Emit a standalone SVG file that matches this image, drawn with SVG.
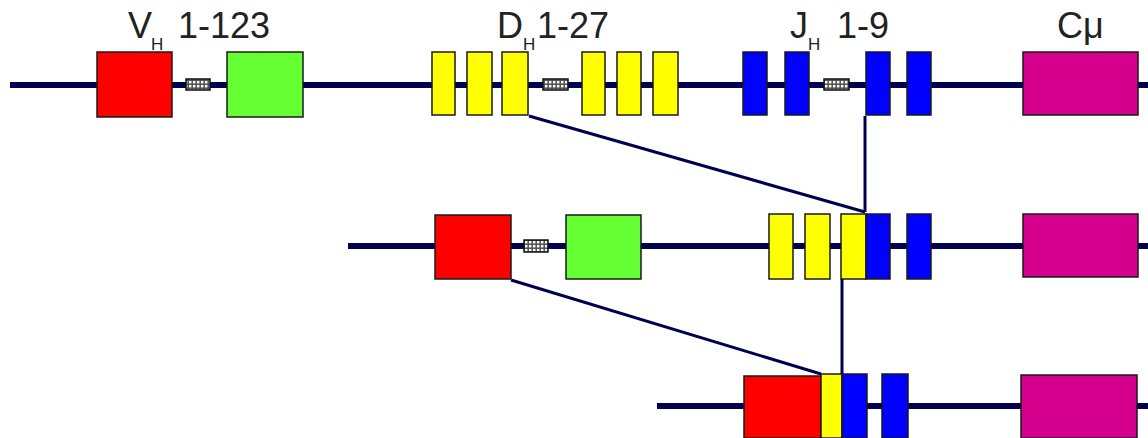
<svg xmlns="http://www.w3.org/2000/svg" width="1148" height="438" viewBox="0 0 1148 438">
<defs>
<pattern id="grid" width="4" height="4" patternUnits="userSpaceOnUse">
<rect width="4" height="4" fill="#555"/>
<rect x="1" y="1" width="2.4" height="2.4" fill="#fff"/>
</pattern>
</defs>
<style>
.dna{stroke:#000050;stroke-width:6;fill:none}
.con{stroke:#000050;stroke-width:3;fill:none}
.box{stroke:#1a1a1a;stroke-width:1.5}
.v{fill:#ff0000}.l{fill:#66ff33}.d{fill:#ffff00}.j{fill:#0000ff}.c{fill:#d6008f}
.h{fill:url(#grid);stroke:#111;stroke-width:1.5}
.t{font-family:"Liberation Sans",Arial,sans-serif;font-size:36px;fill:#222}
.s{font-size:17px}
</style>
<rect width="1148" height="438" fill="#fff"/>
<g id="dna-lines">
<line class="dna" x1="10" y1="85" x2="1148" y2="85"/>
<line class="dna" x1="348" y1="246" x2="1148" y2="246"/>
<line class="dna" x1="657" y1="406" x2="1148" y2="406"/>
</g>
<g id="connectors">
<line class="con" x1="529" y1="116" x2="865" y2="212"/>
<line class="con" x1="865" y1="116" x2="865" y2="212"/>
<line class="con" x1="511" y1="280" x2="821" y2="374"/>
<line class="con" x1="842" y1="279" x2="842" y2="374"/>
</g>
<g id="labels">
<text class="t" x="128" y="38">V<tspan class="s" x="151" y="50">H</tspan><tspan x="178" y="38">1-123</tspan></text>
<text class="t" x="497" y="38">D<tspan class="s" x="523" y="50">H</tspan><tspan x="537" y="38">1-27</tspan></text>
<text class="t" x="790" y="38">J<tspan class="s" x="808" y="50">H</tspan><tspan x="837" y="38">1-9</tspan></text>
<text class="t" x="1057" y="38">Cμ</text>
</g>
<g id="row1">
<rect id="r1-v" class="box v" x="97" y="52" width="75" height="65"/>
<rect id="r1-h1" class="h" x="186" y="79" width="24" height="11"/>
<rect id="r1-l" class="box l" x="227" y="52" width="76" height="65"/>
<rect id="r1-d1" class="box d" x="432" y="52" width="23" height="63"/>
<rect id="r1-d2" class="box d" x="467" y="52" width="25" height="63"/>
<rect id="r1-d3" class="box d" x="502" y="52" width="26" height="63"/>
<rect id="r1-h2" class="h" x="543" y="79" width="25" height="11"/>
<rect id="r1-d4" class="box d" x="582" y="52" width="23" height="63"/>
<rect id="r1-d5" class="box d" x="617" y="52" width="24" height="63"/>
<rect id="r1-d6" class="box d" x="653" y="52" width="25" height="63"/>
<rect id="r1-j1" class="box j" x="743" y="52" width="24" height="63"/>
<rect id="r1-j2" class="box j" x="785" y="52" width="24" height="63"/>
<rect id="r1-h3" class="h" x="824" y="79" width="25" height="11"/>
<rect id="r1-j3" class="box j" x="866" y="52" width="24" height="63"/>
<rect id="r1-j4" class="box j" x="907" y="52" width="24" height="63"/>
<rect id="r1-c" class="box c" x="1023" y="52" width="115" height="63"/>
</g>
<g id="row2">
<rect id="r2-v" class="box v" x="435" y="215" width="76" height="64"/>
<rect id="r2-h" class="h" x="524" y="240" width="24" height="12"/>
<rect id="r2-l" class="box l" x="566" y="215" width="75" height="64"/>
<rect id="r2-d1" class="box d" x="769" y="214" width="24" height="65"/>
<rect id="r2-d2" class="box d" x="805" y="214" width="25" height="65"/>
<rect id="r2-d3" class="box d" x="841" y="214" width="25" height="65"/>
<rect id="r2-j1" class="box j" x="866" y="214" width="24" height="65"/>
<rect id="r2-j2" class="box j" x="907" y="214" width="24" height="65"/>
<rect id="r2-c" class="box c" x="1023" y="214" width="115" height="63"/>
</g>
<g id="row3">
<rect id="r3-v" class="box v" x="744" y="376" width="77" height="62"/>
<rect id="r3-d" class="box d" x="821" y="374" width="21" height="64"/>
<rect id="r3-j1" class="box j" x="842" y="374" width="25" height="64"/>
<rect id="r3-j2" class="box j" x="882" y="374" width="26" height="64"/>
<rect id="r3-c" class="box c" x="1021" y="375" width="116" height="63"/>
</g>
</svg>
